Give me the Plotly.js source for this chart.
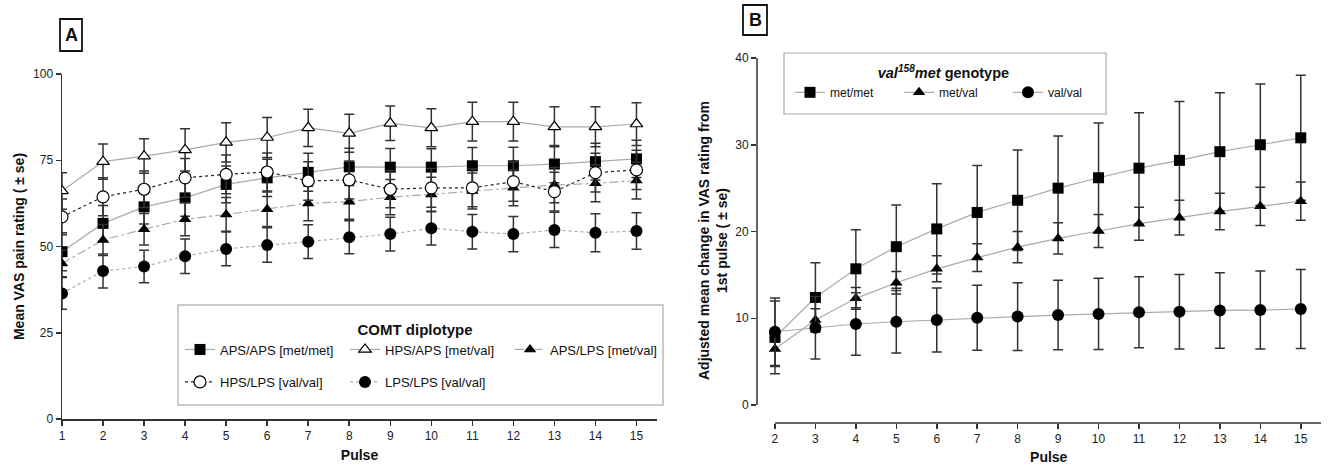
<!DOCTYPE html>
<html>
<head>
<meta charset="utf-8">
<script src="https://cdn.plot.ly/plotly-3.0.1.min.js"></script>
<style>html,body{margin:0;padding:0;background:#fff;}#chart{width:1329px;height:468px;}</style>
</head>
<body>
<div id="chart"></div>
<script>
// ---------- Panel A data ----------
var pulsesA = [1,2,3,4,5,6,7,8,9,10,11,12,13,14,15];
var apsApsMean = [48.5,56.7,61.5,64.1,68.0,69.9,71.5,73.1,73.0,73.0,73.4,73.4,73.9,74.6,75.4];
var apsApsSe   = [5.5,5.2,5.0,5.3,5.3,5.4,5.5,5.4,5.4,5.3,5.3,5.4,5.4,5.3,5.4];
var hpsApsMean = [66.1,74.6,76.2,78.0,80.2,81.6,84.4,82.8,85.7,84.4,86.2,86.2,84.7,84.7,85.5];
var hpsApsSe   = [5.3,5.1,5.0,6.1,5.7,5.8,5.4,5.5,5.0,5.5,5.6,5.6,5.8,5.8,6.2];
var apsLpsMean = [45.1,51.9,55.0,57.9,59.3,60.8,62.5,63.0,64.3,65.1,66.1,67.0,67.8,68.3,69.1];
var apsLpsSe   = [3.9,4.5,4.6,4.8,4.9,5.0,5.0,5.1,5.1,5.0,5.2,5.2,5.1,5.3,5.3];
var hpsLpsMean = [58.6,64.4,66.6,69.9,70.9,71.6,69.0,69.3,66.6,67.0,67.0,68.8,65.9,71.4,72.2];
var hpsLpsSe   = [5.2,5.5,5.3,5.6,5.6,5.5,5.6,5.5,5.4,5.6,5.5,5.7,5.6,5.6,5.7];
var lpsLpsMean = [36.4,42.9,44.2,47.2,49.3,50.4,51.4,52.7,53.6,55.3,54.3,53.6,54.8,54.0,54.5];
var lpsLpsSe   = [4.6,4.9,4.7,5.0,4.9,5.0,4.9,4.8,4.9,4.9,5.0,5.1,5.1,5.5,5.3];
var namesA = ['APS/APS [met/met]','HPS/APS [met/val]','APS/LPS [met/val]','HPS/LPS [val/val]','LPS/LPS [val/val]'];
var ticksA_y = [0,25,50,75,100];

// ---------- Panel B data ----------
var pulsesB = [2,3,4,5,6,7,8,9,10,11,12,13,14,15];
var metMetMean = [7.8,12.4,15.7,18.25,20.3,22.2,23.6,25.0,26.2,27.3,28.2,29.2,30.0,30.8];
var metMetSe   = [4.2,4.0,4.5,4.8,5.2,5.4,5.8,6.0,6.3,6.4,6.8,6.8,7.0,7.2];
var metValMean = [6.45,9.8,12.3,14.1,15.7,17.0,18.2,19.2,20.06,20.9,21.6,22.3,22.9,23.5];
var metValSe   = [2.0,1.3,1.25,1.3,1.5,1.6,1.8,1.8,1.9,1.9,2.0,2.1,2.2,2.2];
var valValMean = [8.45,8.9,9.34,9.6,9.8,10.06,10.2,10.37,10.5,10.7,10.76,10.9,10.95,11.07];
var valValSe   = [3.9,3.6,3.6,3.6,3.7,3.75,3.9,4.0,4.1,4.1,4.3,4.35,4.5,4.55];
var namesB = ['met/met','met/val','val/val'];
var ticksB_y = [0,10,20,30,40];

var FONT = 'Liberation Sans, Arial, sans-serif';
var errStyle = function(arr){ return {type:'data', array:arr, visible:true, color:'#333', thickness:1.5, width:5}; };

var traces = [
  {x:pulsesA, y:apsApsMean, error_y:errStyle(apsApsSe), name:namesA[0], mode:'lines+markers', xaxis:'x', yaxis:'y', legend:'legend',
   line:{color:'#aaa', width:1.2}, marker:{symbol:'square', size:11, color:'#000'}},
  {x:pulsesA, y:hpsApsMean, error_y:errStyle(hpsApsSe), name:namesA[1], mode:'lines+markers', xaxis:'x', yaxis:'y', legend:'legend',
   line:{color:'#aaa', width:1.2}, marker:{symbol:'triangle-up', size:11, color:'#fff', line:{color:'#000', width:1.2}}},
  {x:pulsesA, y:apsLpsMean, error_y:errStyle(apsLpsSe), name:namesA[2], mode:'lines+markers', xaxis:'x', yaxis:'y', legend:'legend',
   line:{color:'#aaa', width:1.2, dash:'dashdot'}, marker:{symbol:'triangle-up', size:11, color:'#000'}},
  {x:pulsesA, y:hpsLpsMean, error_y:errStyle(hpsLpsSe), name:namesA[3], mode:'lines+markers', xaxis:'x', yaxis:'y', legend:'legend2',
   line:{color:'#222', width:1.2, dash:'dot'}, marker:{symbol:'circle', size:12, color:'#fff', line:{color:'#000', width:1.2}}},
  {x:pulsesA, y:lpsLpsMean, error_y:errStyle(lpsLpsSe), name:namesA[4], mode:'lines+markers', xaxis:'x', yaxis:'y', legend:'legend2',
   line:{color:'#aaa', width:1.2, dash:'dot'}, marker:{symbol:'circle', size:12, color:'#000'}},
  {x:pulsesB, y:metMetMean, error_y:errStyle(metMetSe), name:namesB[0], mode:'lines+markers', xaxis:'x2', yaxis:'y2', legend:'legend3',
   line:{color:'#aaa', width:1.2}, marker:{symbol:'square', size:11, color:'#000'}},
  {x:pulsesB, y:metValMean, error_y:errStyle(metValSe), name:namesB[1], mode:'lines+markers', xaxis:'x2', yaxis:'y2', legend:'legend3',
   line:{color:'#aaa', width:1.2}, marker:{symbol:'triangle-up', size:11, color:'#000'}},
  {x:pulsesB, y:valValMean, error_y:errStyle(valValSe), name:namesB[2], mode:'lines+markers', xaxis:'x2', yaxis:'y2', legend:'legend3',
   line:{color:'#aaa', width:1.2}, marker:{symbol:'circle', size:12, color:'#000'}}
];

var W = 1329, H = 468;
function px(x){ return x / W; }
function py(y){ return 1 - y / H; }

var axisCommon = {showgrid:false, zeroline:false, ticks:'outside', ticklen:5, tickwidth:1.5, tickcolor:'#333',
  tickfont:{family:FONT, size:12, color:'#222'}, automargin:false};
var titleFont = {family:FONT, size:14, weight:'bold', color:'#111'};

var layout = {
  width:W, height:H, margin:{l:0, r:0, t:0, b:0}, paper_bgcolor:'#fff', plot_bgcolor:'rgba(0,0,0,0)',
  font:{family:FONT, color:'#111'}, showlegend:true,
  xaxis: Object.assign({}, axisCommon, {domain:[px(62), px(657)], range:[1, 15.5], tickvals:pulsesA,
    showline:true, linecolor:'#333', linewidth:1.5, anchor:'y',
    title:{text:'Pulse', font:titleFont, standoff:8}}),
  yaxis: Object.assign({}, axisCommon, {domain:[py(419), py(74)], range:[0, 100], tickvals:ticksA_y,
    showline:true, linecolor:'#333', linewidth:1.5, anchor:'x',
    title:{text:'Mean VAS pain rating ( ± se)', font:titleFont, standoff:5}}),
  xaxis2: Object.assign({}, axisCommon, {domain:[px(757), px(1321)], range:[1.556, 15.5], tickvals:pulsesB,
    showline:false, anchor:'y2',
    title:{text:'&nbsp;&nbsp;&nbsp;&nbsp;&nbsp;Pulse', font:titleFont, standoff:6}}),
  yaxis2: Object.assign({}, axisCommon, {domain:[py(423), py(58)], range:[-2.07, 40], tickvals:ticksB_y,
    showline:false, anchor:'x2',
    title:{text:'Adjusted mean change in VAS rating from<br>1st pulse ( ± se)', font:titleFont, standoff:4}}),
  legend:{orientation:'h', x:px(180), y:py(315), xanchor:'left', yanchor:'top', bgcolor:'rgba(0,0,0,0)', borderwidth:0,
    entrywidth:120, entrywidthmode:'pixels', font:{family:FONT, size:13, color:'#111'},
    title:{text:'COMT diplotype&nbsp;&nbsp;&nbsp;&nbsp;&nbsp;&nbsp;', side:'top center', font:{family:FONT, size:15, weight:'bold', color:'#111'}}},
  legend2:{orientation:'h', x:px(180), y:py(367), xanchor:'left', yanchor:'top', bgcolor:'rgba(0,0,0,0)', borderwidth:0,
    entrywidth:120, entrywidthmode:'pixels', font:{family:FONT, size:13, color:'#111'}},
  legend3:{orientation:'h', x:px(790), y:py(59), xanchor:'left', yanchor:'top', bgcolor:'rgba(0,0,0,0)', borderwidth:0,
    entrywidth:64, entrywidthmode:'pixels', font:{family:FONT, size:12, color:'#111'},
    title:{text:'<b><i>val<sup>158</sup>met</i> genotype</b>&nbsp;&nbsp;&nbsp;&nbsp;&nbsp;', side:'top center', font:{family:FONT, size:14.5, color:'#111'}}},
  shapes:[
    // legend boxes
    {type:'rect', xref:'paper', yref:'paper', x0:px(178), x1:px(663), y0:py(405), y1:py(305), line:{color:'#bbb', width:1.5}},
    {type:'rect', xref:'paper', yref:'paper', x0:px(784), x1:px(1106), y0:py(114), y1:py(53), line:{color:'#aaa', width:1.2}},
    // panel B axis lines
    {type:'line', xref:'x2 domain', yref:'y2', x0:0, x1:0, y0:0, y1:40, line:{color:'#333', width:1.5}},
    {type:'line', xref:'x2', yref:'y2 domain', x0:2, x1:15.5, y0:0, y1:0, line:{color:'#333', width:1.5}},
    // panel label boxes
    {type:'rect', xref:'paper', yref:'paper', x0:px(60), x1:px(82), y0:py(51), y1:py(19), line:{color:'#111', width:1.8}},
    {type:'rect', xref:'paper', yref:'paper', x0:px(743), x1:px(767), y0:py(35), y1:py(5), line:{color:'#111', width:1.8}}
  ],
  annotations:[
    {text:'<b>A</b>', xref:'paper', yref:'paper', x:px(71), y:py(35), xanchor:'center', yanchor:'middle', showarrow:false, font:{family:FONT, size:18, color:'#111'}},
    {text:'<b>B</b>', xref:'paper', yref:'paper', x:px(755), y:py(20), xanchor:'center', yanchor:'middle', showarrow:false, font:{family:FONT, size:18, color:'#111'}}
  ]
};

Plotly.newPlot('chart', traces, layout, {displayModeBar:false, staticPlot:true});
</script>
</body>
</html>
